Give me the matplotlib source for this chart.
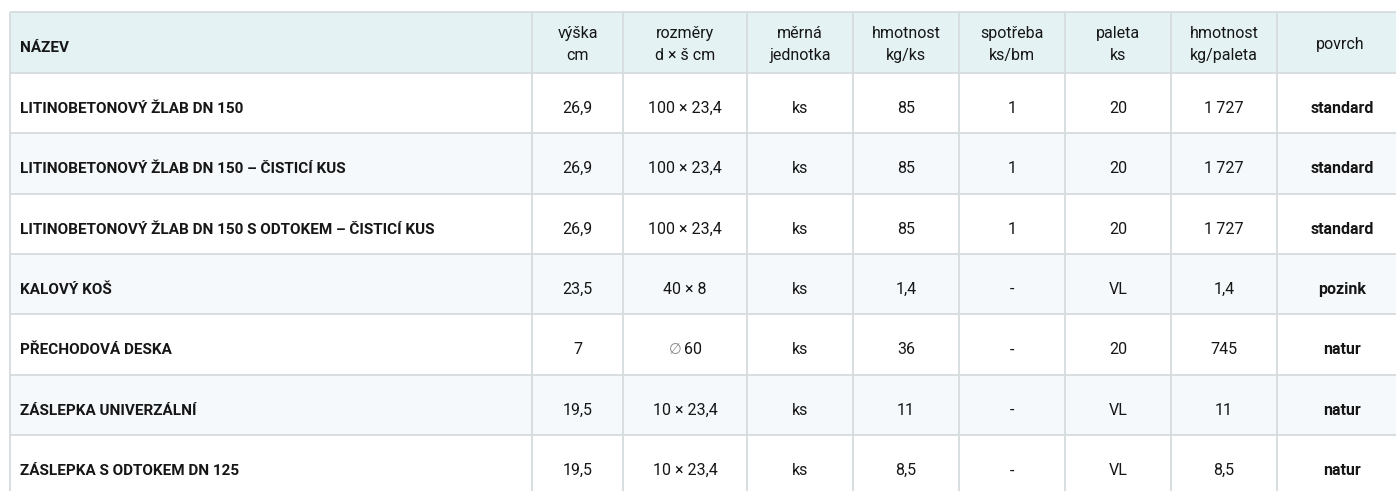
import matplotlib
matplotlib.use("Agg")
import matplotlib.pyplot as plt

plt.rcParams['font.family'] = ['Roboto', 'DejaVu Sans']

# ---- data ----
headers = ["NÁZEV", "výška\ncm", "rozměry\nd × š cm", "měrná\njednotka", "hmotnost\nkg/ks",
           "spotřeba\nks/bm", "paleta\nks", "hmotnost\nkg/paleta", "povrch"]
names = ["LITINOBETONOVÝ ŽLAB DN 150",
         "LITINOBETONOVÝ ŽLAB DN 150 – ČISTICÍ KUS",
         "LITINOBETONOVÝ ŽLAB DN 150 S ODTOKEM – ČISTICÍ KUS",
         "KALOVÝ KOŠ",
         "PŘECHODOVÁ DESKA",
         "ZÁSLEPKA UNIVERZÁLNÍ",
         "ZÁSLEPKA S ODTOKEM DN 125"]
vyska = ["26,9", "26,9", "26,9", "23,5", "7", "19,5", "19,5"]
rozmery = ["100 × 23,4", "100 × 23,4", "100 × 23,4", "40 × 8", "∅60", "10 × 23,4", "10 × 23,4"]
jednotka = ["ks", "ks", "ks", "ks", "ks", "ks", "ks"]
hmotnost = ["85", "85", "85", "1,4", "36", "11", "8,5"]
spotreba = ["1", "1", "1", "-", "-", "-", "-"]
paleta = ["20", "20", "20", "VL", "20", "VL", "VL"]
hmotnost_paleta = ["1\u2009727", "1\u2009727", "1\u2009727", "1,4", "745", "11", "8,5"]
povrch = ["standard", "standard", "standard", "pozink", "natur", "natur", "natur"]

columns = [names, vyska, rozmery, jednotka, hmotnost, spotreba, paleta, hmotnost_paleta, povrch]

# ---- layout (pixels) ----
W, H = 1396, 491
col_edges = [10, 532, 623, 747, 853, 959, 1065, 1171, 1277, 1403]
top = 11.7
header_h = 61.0
row_h = 60.4
n_rows = len(names)

header_bg = "#e4f2f4"
alt_bg = "#f5f9fb"
line_c = "#d6dbde"
text_c = "#161616"

FS_BOLD = 11
FS_NORM = 11.5

fig = plt.figure(figsize=(W / 100, H / 100), dpi=100)
ax = fig.add_axes([0, 0, 1, 1])
ax.set_xlim(0, W)
ax.set_ylim(H, 0)
ax.axis("off")

x0, x1 = col_edges[0], col_edges[-1]
# backgrounds
ax.add_patch(plt.Rectangle((x0, top), x1 - x0, header_h, facecolor=header_bg, edgecolor="none", zorder=0))
for r in range(n_rows):
    y = top + header_h + r * row_h
    if r % 2 == 1:
        ax.add_patch(plt.Rectangle((x0, y), x1 - x0, row_h, facecolor=alt_bg, edgecolor="none", zorder=0))

# grid lines
bottom = top + header_h + n_rows * row_h
for i in range(n_rows + 2):
    y = top if i == 0 else top + header_h + (i - 1) * row_h
    ax.plot([x0, x1], [y, y], color=line_c, lw=1.3, zorder=1, solid_capstyle="butt")
for xe in col_edges:
    ax.plot([xe, xe], [top, bottom], color=line_c, lw=1.3, zorder=1, solid_capstyle="butt")

# header text
hc = top + header_h / 2
for c, h in enumerate(headers):
    if c == 0:
        ax.text(col_edges[0] + 10, hc + 10, h, ha="left", va="baseline", fontsize=FS_BOLD,
                fontweight="bold", color=text_c)
    else:
        cx = (col_edges[c] + col_edges[c + 1]) / 2 if c < len(headers) - 1 else 1340
        ax.text(cx, hc + 2.5, h, ha="center", va="center", fontsize=FS_NORM, color=text_c,
                linespacing=1.6)

# body text
for r in range(n_rows):
    yb = top + header_h + r * row_h + row_h / 2 + 10  # baseline
    for c, col in enumerate(columns):
        val = col[r]
        if c == 0:
            ax.text(col_edges[0] + 10, yb, val, ha="left", va="baseline", fontsize=FS_BOLD,
                    fontweight="bold", color=text_c)
        elif c == len(columns) - 1:
            ax.text(1342, yb, val, ha="center", va="baseline", fontsize=FS_NORM,
                    fontweight="bold", color=text_c)
        else:
            cx = (col_edges[c] + col_edges[c + 1]) / 2
            if val.startswith("∅"):
                ax.text(cx - 3, yb - 1, "∅", ha="right", va="baseline", fontsize=10.5,
                        color="#8a8a8a", family=['DejaVu Sans'])
                ax.text(cx - 1, yb, val[1:], ha="left", va="baseline", fontsize=FS_NORM, color=text_c)
            else:
                ax.text(cx, yb, val, ha="center", va="baseline", fontsize=FS_NORM, color=text_c)

fig.savefig("out.png", dpi=100)
